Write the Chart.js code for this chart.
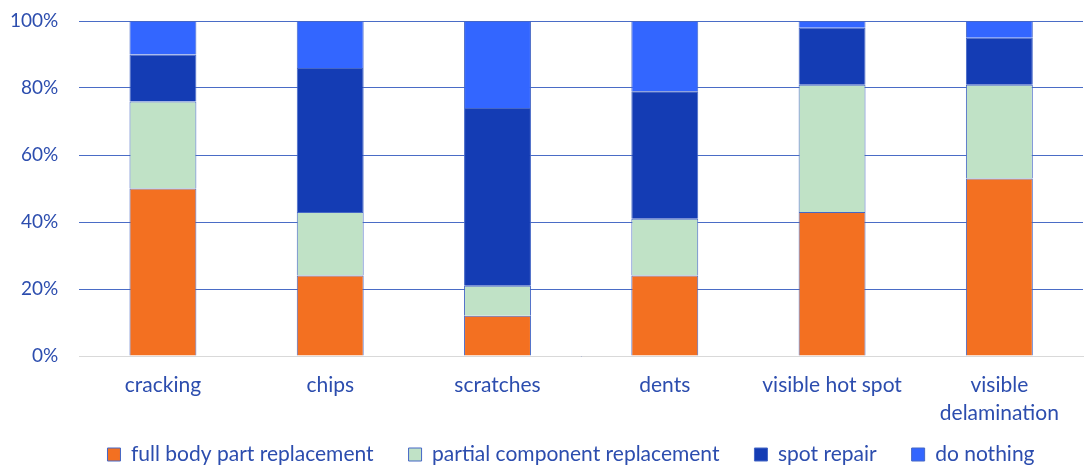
<!DOCTYPE html>
<html>
<head>
<meta charset="utf-8">
<script src="https://cdn.jsdelivr.net/npm/chart.js@4"></script>
<style>
  body { margin: 0; background: #fff; }
  #box { width: 1085px; height: 465px; }
</style>
</head>
<body>
<div id="box"><canvas id="myChart"></canvas></div>
<script>
// categorias (eixo x)
const categorias = ['cracking', 'chips', 'scratches', 'dents', 'visible hot spot', ['visible', 'delamination']];

// valores em % de cada série
const fullBody = [50, 24, 12, 24, 43, 53];
const partial = [26, 19, 9, 17, 38, 28];
const spotRepair = [14, 43, 53, 38, 17, 14];
const doNothing = [10, 14, 26, 21, 2, 5];

const textColor = '#2C4DAE';
const ctx = document.getElementById('myChart');

// a legenda do original não fica centrada, empurro ela um pouco para a direita
const legendShift = {
  id: 'legendShift',
  afterLayout(chart) {
    chart.legend.left += 35;
    chart.legend.right += 35;
  }
};

new Chart(ctx, {
  type: 'bar',
  data: {
    labels: categorias,
    datasets: [
      { label: 'full body part replacement', data: fullBody, backgroundColor: '#F37021' },
      { label: 'partial component replacement', data: partial, backgroundColor: '#C0E2C6' },
      { label: 'spot repair', data: spotRepair, backgroundColor: '#143CB4' },
      { label: 'do nothing', data: doNothing, backgroundColor: '#3366FF' }
    ].map(d => ({ ...d, borderColor: '#4567C6', borderWidth: 1, categoryPercentage: 0.8, barPercentage: 0.5 }))
  },
  options: {
    responsive: true,
    maintainAspectRatio: false,
    animation: false,
    layout: { padding: { top: 21, right: 2, left: -11, bottom: -10 } },
    plugins: {
      legend: {
        position: 'bottom',
        labels: {
          color: textColor,
          boxWidth: 13,
          boxHeight: 13,
          padding: 35,
          font: { family: 'Lato', size: 21 }
        }
      },
      tooltip: { enabled: false }
    },
    scales: {
      x: {
        stacked: true,
        grid: { display: false },
        border: { color: '#D9D9D9' },
        // altura fixa do eixo x; as labels de duas linhas descem sobre a área da legenda
        afterFit: scale => {
          scale.height = 53;
          scale._computeLabelArea = () => null; // sem clip nas labels
        },
        ticks: {
          color: textColor,
          maxRotation: 0,
          autoSkip: false,
          padding: 7,
          font: { family: 'Lato', size: 21, lineHeight: 1.33 }
        }
      },
      y: {
        stacked: true,
        min: 0,
        max: 100,
        border: { display: false },
        grid: { color: '#4A6CC6', drawTicks: false },
        afterFit: scale => {
          scale.paddingTop = 0;
          scale.paddingBottom = 0;
        },
        ticks: {
          stepSize: 20,
          color: textColor,
          padding: 21,
          font: { family: 'Lato', size: 19 },
          callback: v => v + '%'
        }
      }
    }
  },
  plugins: [legendShift]
});
</script>
</body>
</html>
